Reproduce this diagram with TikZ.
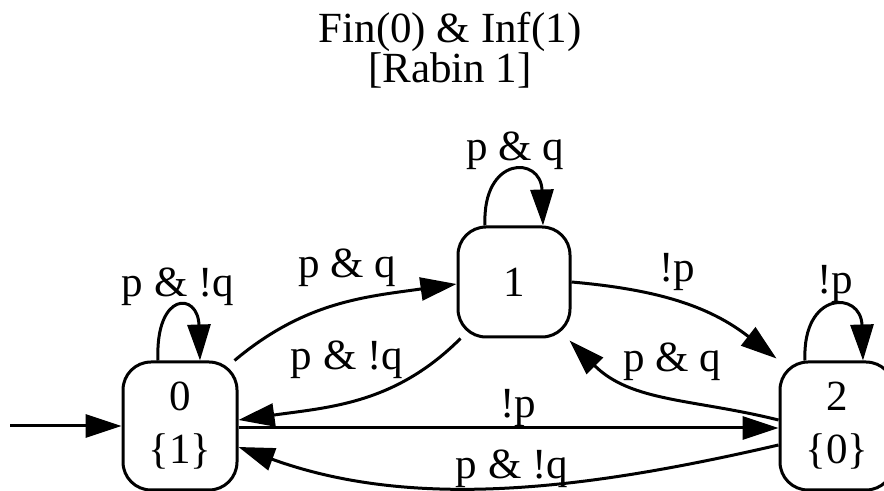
\documentclass[tikz,border=0pt]{standalone}
\usepackage{fontspec}
\setmainfont{Liberation Serif}
\usetikzlibrary{arrows.meta}
\begin{document}
\begin{tikzpicture}[x=0.5pt,y=-0.5pt,
  state/.style={draw, line width=1.5pt, rounded corners=14pt, inner sep=0pt, align=center, font=\fontsize{21.5}{26.5}\selectfont},
  edge/.style={line width=1.5pt, -{Triangle[length=18pt,width=11.5pt]}},
  lbl/.style={inner sep=0pt, font=\fontsize{21.5}{26}\selectfont}]
\useasboundingbox (0,0) rectangle (884,491);
\node[lbl, align=center, font=\fontsize{21.5}{19.8}\selectfont] (title) at (450,50) {Fin(0) \& Inf(1)\\ {[Rabin 1]}};
% states
\node[state, minimum width=57pt, minimum height=64pt] (n0) at (180,426) {0\\ \{1\}};
\node[state, minimum width=56pt, minimum height=55pt] (n1) at (514,282) {1};
\node[state, minimum width=57pt, minimum height=64pt] (n2) at (837,426) {2\\ \{0\}};
\coordinate (init) at (10,426);
% edges
\draw[edge] (init) -- (n0.west);
\draw[edge] ([xshift=-11pt]n0.north) .. controls +(-3,-69) and +(-2,-69) .. ([xshift=10pt]n0.north);
\draw[edge] ([xshift=-14.5pt]n1.north) .. controls +(-3,-70) and +(-2,-70) .. ([xshift=14.5pt]n1.north);
\draw[edge] ([xshift=-16pt]n2.north) .. controls +(-3,-70) and +(-2,-70) .. ([xshift=13pt]n2.north);
\draw[edge] ([xshift=-2pt]n0.north east) to[out=40,in=188] ([yshift=-1pt]n1.west);
\draw[edge] ([xshift=2pt]n1.south west) to[out=-135,in=8] ([yshift=3pt]n0.east);
\draw[edge] ([yshift=-1pt]n0.east) -- ([yshift=-1pt]n2.west);
\draw[edge] ([yshift=-9.5pt]n2.west) to[out=193,in=-20,looseness=0.9] ([yshift=-10.5pt]n0.east);
\draw[edge] (n1.east) to[out=-5,in=142] ([xshift=-1pt,yshift=1pt]n2.north west);
\draw[edge] ([yshift=3pt]n2.west) to[out=166,in=-45] ([xshift=-1pt,yshift=-1pt]n1.south east);
% labels
\node[lbl] (l00) at (178,287) {p \& !q};
\node[lbl] (l11) at (515,151) {p \& q};
\node[lbl] (l01) at (347,268) {p \& q};
\node[lbl] (l10) at (347,360) {p \& !q};
\node[lbl] (l12) at (677,272) {!p};
\node[lbl] (l22) at (835,284) {!p};
\node[lbl] (l21) at (672,362) {p \& q};
\node[lbl] (l02) at (518,408) {!p};
\node[lbl] (l20) at (512,469) {p \& !q};
\end{tikzpicture}
\end{document}
